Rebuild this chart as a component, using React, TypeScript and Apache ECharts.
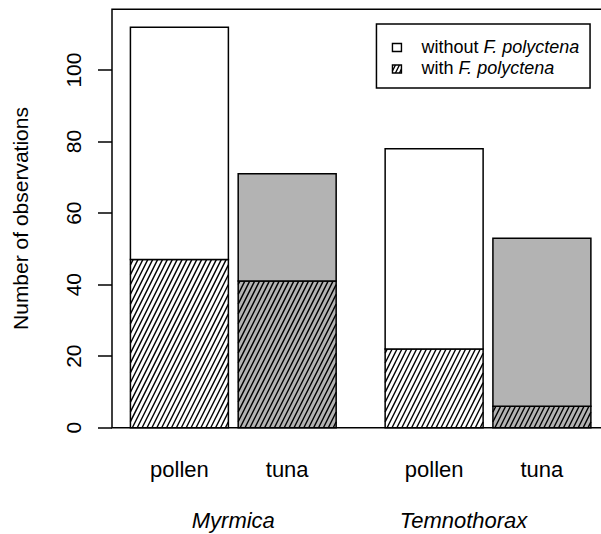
import React, { useEffect, useRef } from "react";
import * as echarts from "echarts";

// ---- data ----
const groups = ["Myrmica", "Temnothorax"];
const foods = ["pollen", "tuna", "pollen", "tuna"];
const withValues = [47, 41, 22, 6];
const withoutValues = [65, 30, 56, 47];
const yTicks = [0, 20, 40, 60, 80, 100];
const legendPlain = ["without ", "with "];
const legendItalic = ["F. polyctena", "F. polyctena"];

// ---- layout (R barplot style) ----
const FONT = "'Liberation Sans', Arial, sans-serif";
const BAR_W = 1;
const SPACE_IN = 0.1;
const SPACE_BETWEEN = 0.5;
const Y_MAX = 117;
const GROUP_LABEL_AT = [1.55, 3.9];
const CANVAS_W = 620;
const foodFill: Record<string, string> = { pollen: "#ffffff", tuna: "#b3b3b3" };

function barCenters(): number[] {
  const centers: number[] = [];
  let x = 0;
  const perGroup = foods.length / groups.length;
  foods.forEach((_, i) => {
    x += i % perGroup === 0 ? SPACE_BETWEEN : SPACE_IN;
    centers.push(x + BAR_W / 2);
    x += BAR_W;
  });
  return centers;
}

export default function App() {
  const ref = useRef<HTMLDivElement>(null);
  useEffect(() => {
    if (!ref.current) return;
    const chart = echarts.init(ref.current, null, { renderer: "svg" });
    const centers = barCenters();
    const lo = centers[0] - BAR_W / 2;
    const hi = centers[centers.length - 1] + BAR_W / 2;
    const ext = (hi - lo) * 0.04;
    const xMin = lo - ext;
    const xMax = hi + ext;

    const data: number[][] = [];
    foods.forEach((_, i) => {
      data.push([centers[i], 0, withValues[i], 1, i]);
      data.push([centers[i], withValues[i], withValues[i] + withoutValues[i], 0, i]);
    });

    const TAN = 2.0;
    const STEP = 4.9;
    const hatchLines = (L: number, T: number, R: number, B: number) => {
      const H = B - T;
      const out: any[] = [];
      for (let c = Math.floor((L - H / TAN) / STEP) * STEP; c <= R; c += STEP) {
        let xA = c, yA = B;
        if (xA < L) { yA = B - (L - c) * TAN; xA = L; }
        let xB = c + H / TAN, yB = T;
        if (xB > R) { yB = B - (R - c) * TAN; xB = R; }
        if (yA > yB && xA < xB) {
          out.push({
            type: "line",
            shape: { x1: xA, y1: yA, x2: xB, y2: yB },
            style: { stroke: "#000", lineWidth: 1.4 },
            silent: true,
          });
        }
      }
      return out;
    };

    const nearest = (arr: number[], v: number) => {
      let best = 0;
      arr.forEach((a, i) => { if (Math.abs(a - v) < Math.abs(arr[best] - v)) best = i; });
      return best;
    };

    const labelStyle = { color: "#000", fontSize: 21, fontFamily: FONT };
    const xLabelStyle = { color: "#000", fontSize: 22, fontFamily: FONT };

    // legend icon hatch (decorative)
    const iconX = 16, iconW = 9, iconH = 8;
    const legIconHatch = [] as any[];
    [3, 7, 11].forEach((c) => {
      const L = iconX, R = iconX + iconW, T = 41, B = 41 + iconH;
      let xA = iconX + c - 4, yA = B;
      let xB = xA + iconH / 2, yB = T;
      if (xA < L) { yA = B - (L - xA) * 2; xA = L; }
      if (xB > R) { yB = B - (R - (iconX + c - 4)) * 2; xB = R; }
      legIconHatch.push({ type: "line", shape: { x1: xA, y1: yA, x2: xB, y2: yB }, style: { stroke: "#000", lineWidth: 1.4 } });
    });

    chart.setOption({
      animation: false,
      grid: {
        left: 112, top: 9.3, right: CANVAS_W - 609.3, bottom: 106.3,
        show: true, borderColor: "#000", borderWidth: 1.5, backgroundColor: "transparent",
      },
      xAxis: [
        {
          type: "value", min: xMin, max: xMax,
          axisLine: { show: false }, axisTick: { show: false }, splitLine: { show: false },
          axisLabel: {
            ...xLabelStyle,
            customValues: centers,
            margin: 41.5,
            verticalAlign: "middle",
            formatter: (v: number) => foods[nearest(centers, v)],
          },
        },
        {
          type: "value", min: xMin, max: xMax, position: "bottom",
          axisLine: { show: false }, axisTick: { show: false }, splitLine: { show: false },
          axisLabel: {
            ...xLabelStyle,
            fontStyle: "italic",
            customValues: GROUP_LABEL_AT,
            margin: 92.5,
            verticalAlign: "middle",
            formatter: (v: number) => groups[nearest(GROUP_LABEL_AT, v)],
          },
        },
      ],
      yAxis: {
        type: "value", min: 0, max: Y_MAX,
        axisLine: { show: false },
        splitLine: { show: false },
        axisTick: { show: true, customValues: yTicks, length: 14, lineStyle: { color: "#000", width: 1.5 } },
        axisLabel: {
          ...labelStyle,
          customValues: yTicks,
          rotate: 90,
          margin: 38.7,
          align: "center",
          verticalAlign: "middle",
        },
        name: "Number of observations",
        nameLocation: "middle",
        nameRotate: 90,
        nameGap: 92,
        nameTextStyle: { ...labelStyle, align: "center", verticalAlign: "middle" },
      },
      series: [
        {
          type: "custom",
          xAxisIndex: 0,
          yAxisIndex: 0,
          data,
          renderItem: (params: any, api: any) => {
            const xc = api.value(0), v0 = api.value(1), v1 = api.value(2);
            const hatched = api.value(3) === 1;
            const idx = api.value(4);
            const p0 = api.coord([xc - BAR_W / 2, v1]);
            const p1 = api.coord([xc + BAR_W / 2, v0]);
            const L = p0[0], T = p0[1], R = p1[0], B = p1[1];
            const children: any[] = [
              { type: "rect", shape: { x: L, y: T, width: R - L, height: B - T }, style: { fill: foodFill[foods[idx]], stroke: "none" } },
            ];
            if (hatched) children.push(...hatchLines(L, T, R, B));
            children.push({
              type: "rect", shape: { x: L, y: T, width: R - L, height: B - T },
              style: { fill: "none", stroke: "#000", lineWidth: 1.5 },
            });
            return { type: "group", children };
          },
        },
      ],
      graphic: [
        {
          type: "group",
          left: 375.7,
          top: 23.3,
          children: [
            { type: "rect", shape: { x: 0, y: 0, width: 213.6, height: 64 }, style: { fill: "#fff", stroke: "#000", lineWidth: 1.5 } },
            { type: "rect", shape: { x: iconX, y: 19.5, width: iconW, height: iconH }, style: { fill: "#fff", stroke: "#000", lineWidth: 1.4 } },
            { type: "rect", shape: { x: iconX, y: 41, width: iconW, height: iconH }, style: { fill: "#fff", stroke: "#000", lineWidth: 1.4 } },
            ...legIconHatch,
            ...[0, 1].map((i) => ({
              type: "text",
              x: 45,
              y: 23.4 + i * 21,
              style: {
                text: `{n|${legendPlain[i]}}{it|${legendItalic[i]}}`,
                verticalAlign: "middle",
                rich: {
                  n: { fontSize: 18, fontFamily: FONT, fill: "#000", color: "#000" },
                  it: { fontSize: 18, fontFamily: FONT, fontStyle: "italic", fill: "#000", color: "#000" },
                },
              },
            })),
          ],
        },
      ],
    });
    return () => chart.dispose();
  }, []);
  return <div ref={ref} style={{ position: "fixed", left: 0, top: 0, width: CANVAS_W, height: 534, background: "#fff" }} />;
}
